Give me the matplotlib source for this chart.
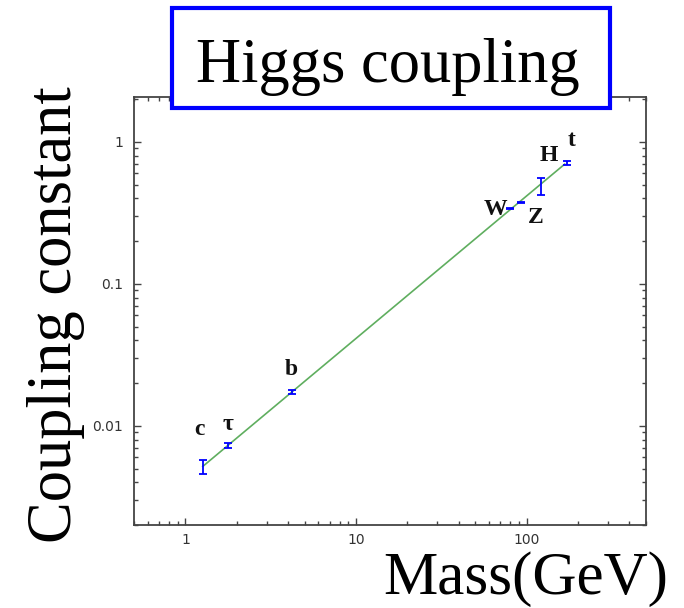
import matplotlib
matplotlib.use("Agg")
import matplotlib.pyplot as plt
from matplotlib.patches import Rectangle
from matplotlib.ticker import LogLocator, NullFormatter, FixedLocator, FixedFormatter

# ---- data ----
particles = ["c", "τ", "b", "W", "Z", "H", "t"]
mass = [1.27, 1.78, 4.2, 80.2, 92.0, 122.0, 173.0]
coupling = [0.0051, 0.00728, 0.0173, 0.340, 0.376, 0.485, 0.706]
err_low = [0.0005, 0.00025, 0.0005, 0.004, 0.004, 0.066, 0.024]
err_high = [0.0006, 0.00027, 0.0005, 0.004, 0.004, 0.073, 0.025]
fit_mass = [1.264, 167.0]
fit_coupling = [0.00517, 0.697]
xticks = [1, 10, 100]
xticklabels = ["1", "10", "100"]
yticks = [0.01, 0.1, 1]
yticklabels = ["0.01", "0.1", "1"]
# label offsets (points) from each point
label_dx = [-2.4, 0.0, -0.4, -10.8, 10.8, 5.0, 2.9]
label_dy = [23.0, 11.3, 12.2, -4.8, -14.9, 18.0, 12.7]

W, H = 684, 608
fig = plt.figure(figsize=(W / 100, H / 100), dpi=100)
ax = fig.add_axes([134 / W, 1 - 525 / H, 512 / W, 428 / H])

ax.plot(fit_mass, fit_coupling, color="#5fae5f", lw=1.2, zorder=2)
ax.errorbar(mass, coupling, yerr=[err_low, err_high], fmt="none",
            ecolor="#0000ff", elinewidth=1.3, capsize=3, capthick=1.3, zorder=3)

serif = ["Liberation Serif", "DejaVu Serif"]
for name, m, c, dx, dy in zip(particles, mass, coupling, label_dx, label_dy):
    ax.annotate(name, (m, c), xytext=(dx, dy), textcoords="offset points",
                ha="center", va="baseline", fontsize=17, fontweight="bold",
                family=serif, color="#111111")

ax.set_xscale("log")
ax.set_yscale("log")
ax.set_xlim(0.5, 500)
ax.set_ylim(0.002, 2.07)

ax.xaxis.set_major_locator(FixedLocator(xticks))
ax.xaxis.set_major_formatter(FixedFormatter(xticklabels))
ax.yaxis.set_major_locator(FixedLocator(yticks))
ax.yaxis.set_major_formatter(FixedFormatter(yticklabels))
ax.xaxis.set_minor_locator(LogLocator(base=10, subs=range(2, 10)))
ax.yaxis.set_minor_locator(LogLocator(base=10, subs=range(2, 10)))
ax.xaxis.set_minor_formatter(NullFormatter())
ax.yaxis.set_minor_formatter(NullFormatter())

spc = "#444444"
for s in ax.spines.values():
    s.set_color(spc)
    s.set_linewidth(1.3)
ax.tick_params(which="both", direction="in", top=True, right=True, color=spc,
               labelsize=10, labelcolor="#333333")
ax.tick_params(which="major", length=5, width=1.0)
ax.tick_params(which="minor", length=3, width=1.0)
ax.tick_params(axis="x", pad=6)
ax.tick_params(axis="y", pad=8)

# title box
rect = Rectangle((172 / W, 1 - 108 / H), 438 / W, 100 / H, transform=fig.transFigure,
                 facecolor="white", edgecolor="#0000ff", linewidth=3.0, zorder=5)
fig.patches.append(rect)
fig.text(387.5 / W, 1 - 82 / H, "Higgs coupling", ha="center", va="baseline",
         fontsize=45, family=serif, zorder=6)

fig.text(56 / W, 1 - 315 / H, "Coupling constant", rotation=90, ha="center",
         va="center", fontsize=45, family=serif)
fig.text(668 / W, 1 - 594 / H, "Mass(GeV)", ha="right", va="baseline",
         fontsize=44, family=serif)

fig.savefig("out.png", dpi=100)
